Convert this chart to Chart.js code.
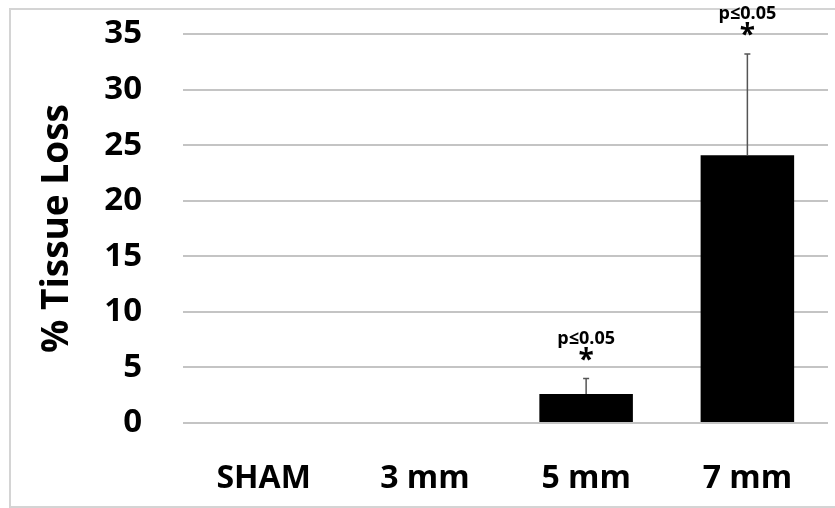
<!DOCTYPE html>
<html>
<head>
<meta charset="utf-8">
<script src="https://cdn.jsdelivr.net/npm/chart.js@4.4.0/dist/chart.umd.min.js"></script>
<style>
  html, body { margin: 0; padding: 0; background: #fff; overflow: hidden; }
  #frame { position: absolute; left: 9px; top: 8px; width: 840px; height: 496px; border: 2px solid #d4d4d4; }
  #wrap { position: absolute; left: 0; top: 0; width: 835px; height: 508px; }
</style>
</head>
<body>
<div id="frame"></div>
<div id="wrap"><canvas id="chart" width="835" height="508"></canvas></div>
<script>
var categories = ["SHAM", "3 mm", "5 mm", "7 mm"];
var tissueLoss = [0, 0, 2.6, 24.1];
var errorUpper = [0, 0, 1.4, 9.1];
var significance = ["", "", "p≤0.05", "p≤0.05"];
var yTicks = [0, 5, 10, 15, 20, 25, 30, 35];

var fontFamily = "'Open Sans', 'DejaVu Sans', sans-serif";

// upper error bars + significance labels, placed through the scales
var errorBarPlugin = {
  id: 'errorBars',
  afterDatasetsDraw: function(chart) {
    var ctx = chart.ctx;
    var xs = chart.scales.x, ys = chart.scales.y;
    ctx.save();
    for (var i = 0; i < categories.length; i++) {
      if (!errorUpper[i]) continue;
      var x = xs.getPixelForValue(i);
      var yBar = ys.getPixelForValue(tissueLoss[i]);
      var yTop = ys.getPixelForValue(tissueLoss[i] + errorUpper[i]);
      ctx.strokeStyle = '#555';
      ctx.lineWidth = 1.5;
      ctx.beginPath();
      ctx.moveTo(x, yBar);
      ctx.lineTo(x, yTop);
      ctx.moveTo(x - 3, yTop);
      ctx.lineTo(x + 3, yTop);
      ctx.stroke();
      if (significance[i]) {
        ctx.fillStyle = '#000';
        ctx.textAlign = 'center';
        ctx.textBaseline = 'middle';
        ctx.font = 'bold 28px ' + fontFamily;
        ctx.fillText('*', x, yTop - 18);
        ctx.font = 'bold 18px ' + fontFamily;
        ctx.fillText(significance[i], x, yTop - 40);
      }
    }
    ctx.restore();
  }
};

new Chart(document.getElementById("chart"), {
  type: 'bar',
  data: {
    labels: categories,
    datasets: [
      {
        data: tissueLoss,
        backgroundColor: '#000',
        borderWidth: 0,
        barPercentage: 0.58,
        categoryPercentage: 1.0
      }
    ]
  },
  options: {
    responsive: false,
    animation: false,
    layout: { padding: { top: 34, right: 7, bottom: 0, left: 35 } },
    plugins: {
      legend: { display: false },
      tooltip: { enabled: false }
    },
    scales: {
      x: {
        grid: { display: false, drawTicks: false },
        border: { display: false },
        afterFit: function(axis) { axis.height = 85; },
        ticks: {
          color: '#000',
          padding: 37,
          font: { family: fontFamily, size: 32, weight: 'bold' }
        }
      },
      y: {
        min: 0,
        max: 35,
        afterBuildTicks: function(axis) {
          axis.ticks = yTicks.map(function(v) { return { value: v }; });
        },
        afterFit: function(axis) {
          axis.width = 148;
          axis.paddingTop = 0;
          axis.paddingBottom = 0;
        },
        grid: { color: '#c4c4c4', lineWidth: 2, drawTicks: false },
        border: { display: false },
        ticks: {
          color: '#000',
          padding: 41,
          font: { family: fontFamily, size: 33, weight: 'bold' }
        },
        title: {
          display: true,
          text: '% Tissue Loss',
          color: '#000',
          padding: { top: 0, bottom: 0 },
          font: { family: fontFamily, size: 37, weight: 'bold' }
        }
      }
    }
  },
  plugins: [errorBarPlugin]
});
</script>
</body>
</html>
